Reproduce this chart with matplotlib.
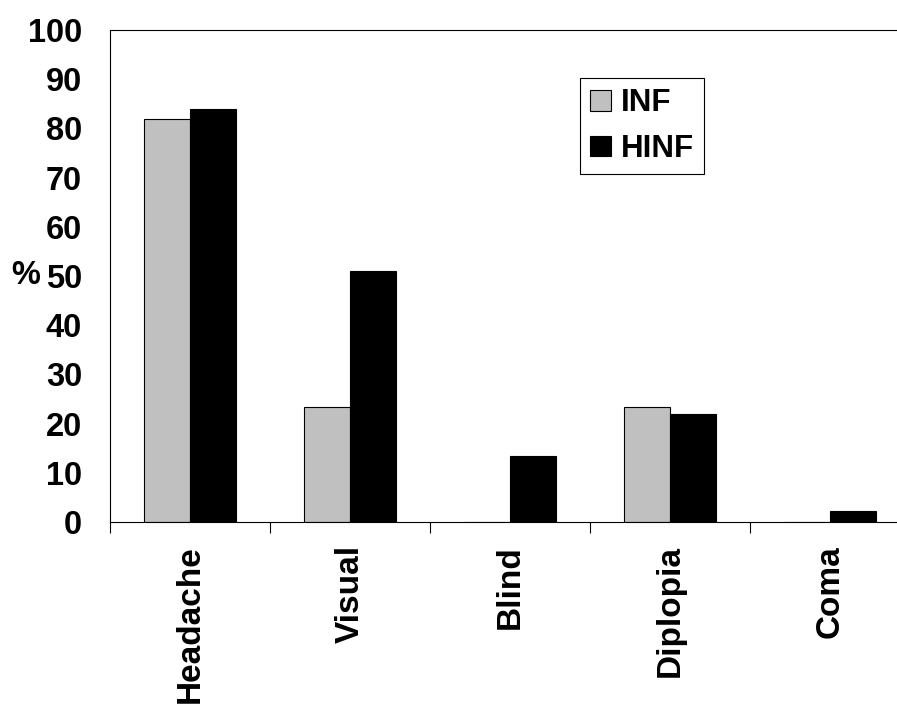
import matplotlib
matplotlib.use("Agg")
import matplotlib.pyplot as plt
import numpy as np

categories = ["Headache", "Visual", "Blind", "Diplopia", "Coma"]
inf_values = [82.0, 23.3, 0.0, 23.3, 0.0]
hinf_values = [84.0, 51.0, 13.4, 22.0, 2.2]
yticks = [0, 10, 20, 30, 40, 50, 60, 70, 80, 90, 100]

plt.rcParams['font.family'] = ['Liberation Sans', 'DejaVu Sans']
plt.rcParams['font.weight'] = 'bold'

fig = plt.figure(figsize=(8.97, 7.04), dpi=100)
ax = fig.add_axes([110/897, 182/704, 800/897, 492/704])

x = np.arange(len(categories))
w = 0.2875
ax.bar(x - w/2, inf_values, width=w, color='#C0C0C0', edgecolor='black', linewidth=0.8, label='INF')
ax.bar(x + w/2, hinf_values, width=w, color='black', edgecolor='black', linewidth=0.8, label='HINF')

ax.set_xlim(-0.5, len(categories) - 0.5)
ax.set_ylim(0, 100)
ax.set_yticks(yticks)
ax.set_yticklabels([str(v) for v in yticks], fontsize=23.5, fontweight='bold')
ax.tick_params(axis='y', length=0, pad=20)

ax.set_xticks(x)
ax.set_xticklabels(categories, rotation=90, fontsize=24, fontweight='bold', va='top')
ax.tick_params(axis='x', which='major', length=0, pad=16.5)
ax.set_xticks(np.arange(len(categories) + 1) - 0.5, minor=True)
ax.tick_params(axis='x', which='minor', length=8, width=0.8, direction='out')

for s in ['top', 'left', 'bottom']:
    ax.spines[s].set_linewidth(0.8)
    ax.spines[s].set_color('black')
ax.spines['right'].set_visible(False)

ax.set_ylabel('%', rotation=0, fontsize=23.5, fontweight='bold', ha='right', va='center')
ax.yaxis.set_label_coords(-0.0875, 0.5)

leg = ax.legend(loc='upper left', bbox_to_anchor=(0.5875, 0.9024), borderaxespad=0,
                fancybox=False, edgecolor='black', framealpha=1,
                prop={'size': 22.5, 'weight': 'bold'},
                handlelength=0.65, handleheight=0.65, handletextpad=0.33,
                borderpad=0.33, labelspacing=0.5)
leg.get_frame().set_linewidth(0.8)

fig.savefig('out.png', dpi=100)
